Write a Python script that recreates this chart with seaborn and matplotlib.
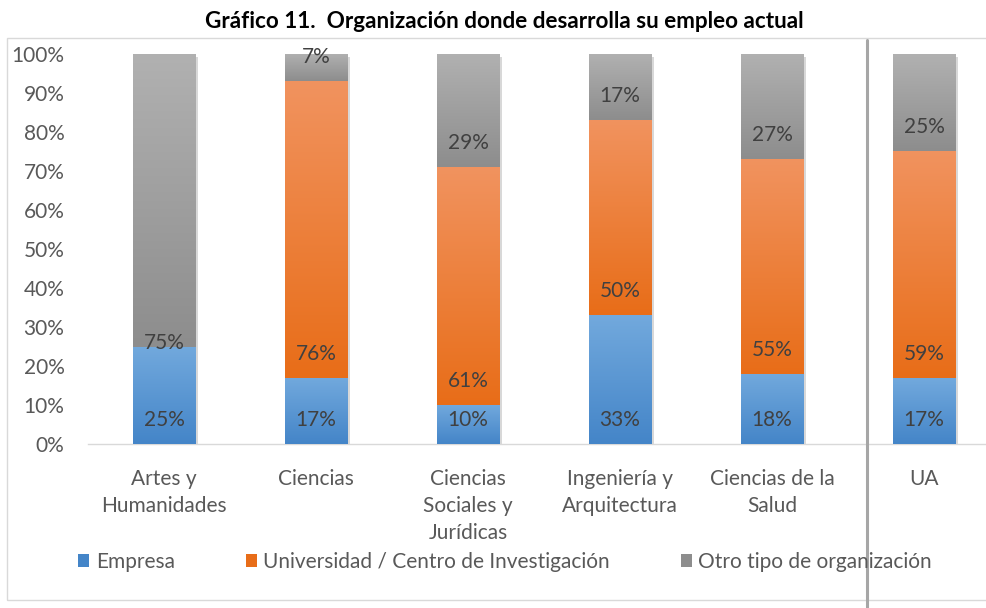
import numpy as np
import matplotlib
matplotlib.use("Agg")
import matplotlib.pyplot as plt
import matplotlib.patheffects as pe
from matplotlib.colors import LinearSegmentedColormap
from matplotlib.patches import Patch, Rectangle
from matplotlib.lines import Line2D
import seaborn as sns

# Datos del gráfico (porcentajes por rama)
ramas = ["Artes y\nHumanidades", "Ciencias", "Ciencias\nSociales y\nJurídicas",
         "Ingeniería y\nArquitectura", "Ciencias de la\nSalud", "UA"]
empresa = [25, 17, 10, 33, 18, 17]
universidad = [0, 76, 61, 50, 55, 59]
otro = [75, 7, 29, 17, 27, 25]
series = ["Empresa", "Universidad / Centro de Investigación", "Otro tipo de organización"]
titulo = "Gráfico 11.  Organización donde desarrolla su empleo actual"

# colores (arriba claro, abajo oscuro)
colores = [("#72A9DD", "#4485C8"), ("#F1935F", "#E86D18"), ("#B1B1B1", "#8D8D8D")]

sns.set_style("white")
plt.rcParams["font.family"] = ["Lato", "DejaVu Sans"]

# 100% apilado
valores = np.array([empresa, universidad, otro], dtype=float)
partes = valores / valores.sum(axis=0)
bases = np.vstack([np.zeros(len(ramas)), np.cumsum(partes, axis=0)[:-1]])

fig = plt.figure(figsize=(9.87, 6.08), dpi=100)
ax = fig.add_axes([0.0892, 0.2697, 0.924, 0.6415])


def degradar(ax, patch, c_top, c_bot):
    x0, y0 = patch.get_x(), patch.get_y()
    w, h = patch.get_width(), patch.get_height()
    if h <= 0:
        return
    cmap = LinearSegmentedColormap.from_list("g", [c_bot, c_top])
    grad = np.linspace(0, 1, 256).reshape(-1, 1)
    im = ax.imshow(grad, extent=(x0, x0 + w, y0, y0 + h), origin="lower",
                   cmap=cmap, aspect="auto", interpolation="bicubic", zorder=3)
    im.set_clip_path(patch)


sombra = [pe.SimplePatchShadow(offset=(2, -2), shadow_rgbFace="#808080", alpha=0.3),
          pe.Normal()]

for k in range(3):
    sns.barplot(x=ramas, y=partes[k], bottom=bases[k], color=colores[k][1],
                width=0.41, errorbar=None, saturation=1, ax=ax, zorder=2)
    for p in ax.containers[-1]:
        p.set_path_effects(sombra)
        p.set_linewidth(0)
        degradar(ax, p, *colores[k])

# etiquetas de datos (posición "base interior" como en Excel)
for k in range(3):
    for i in range(len(ramas)):
        if valores[k, i] == 0:
            continue
        off = 24
        if k == 2 and universidad[i] == 0:
            off = 4
        ax.annotate(f"{int(valores[k, i])}%", (i, bases[k, i]), xytext=(0, off),
                    textcoords="offset pixels", ha="center", va="center",
                    fontsize=15, color="#404040", zorder=5)

ax.set_xlim(-0.5, 5.5)
ax.set_ylim(0, 1)
ax.set_yticks(np.arange(0, 1.01, 0.1))
ax.set_yticklabels([f"{int(round(v * 100))}%" for v in np.arange(0, 1.01, 0.1)])
ax.tick_params(axis="y", length=0, pad=17, labelsize=15, labelcolor="#595959")
ax.tick_params(axis="x", length=0, pad=18, labelsize=15, labelcolor="#595959")
for t in ax.get_xticklabels():
    t.set_linespacing(1.45)
ax.set_xlabel("")
ax.set_ylabel("")
sns.despine(ax=ax, left=True, top=True, right=True)
ax.spines["bottom"].set_color("#D9D9D9")
ax.spines["bottom"].set_linewidth(1)

# marco del gráfico, título, separador
fig.patches.append(Rectangle((7 / 987, 1 - 600 / 608), 1.2, 562 / 608,
                             transform=fig.transFigure, fill=False,
                             edgecolor="#D9D9D9", lw=1))
fig.text(504 / 987, 1 - 22 / 608, titulo, ha="center", va="center",
         fontsize=16.2, fontweight="bold", color="#000000")
fig.lines.append(Line2D([867 / 987, 867 / 987], [0, 1 - 40 / 608],
                        transform=fig.transFigure, color="#A6A6A6", lw=2.2))

handles = [Patch(facecolor=c[1], edgecolor="none") for c in colores]
fig.legend(handles, series, loc="center", bbox_to_anchor=(505 / 987, 1 - 562 / 608),
           ncol=3, frameon=False, handlelength=0.55, handleheight=0.55,
           handletextpad=0.3, columnspacing=3.4, fontsize=15, labelcolor="#595959")

fig.savefig("out.png", dpi=100)
